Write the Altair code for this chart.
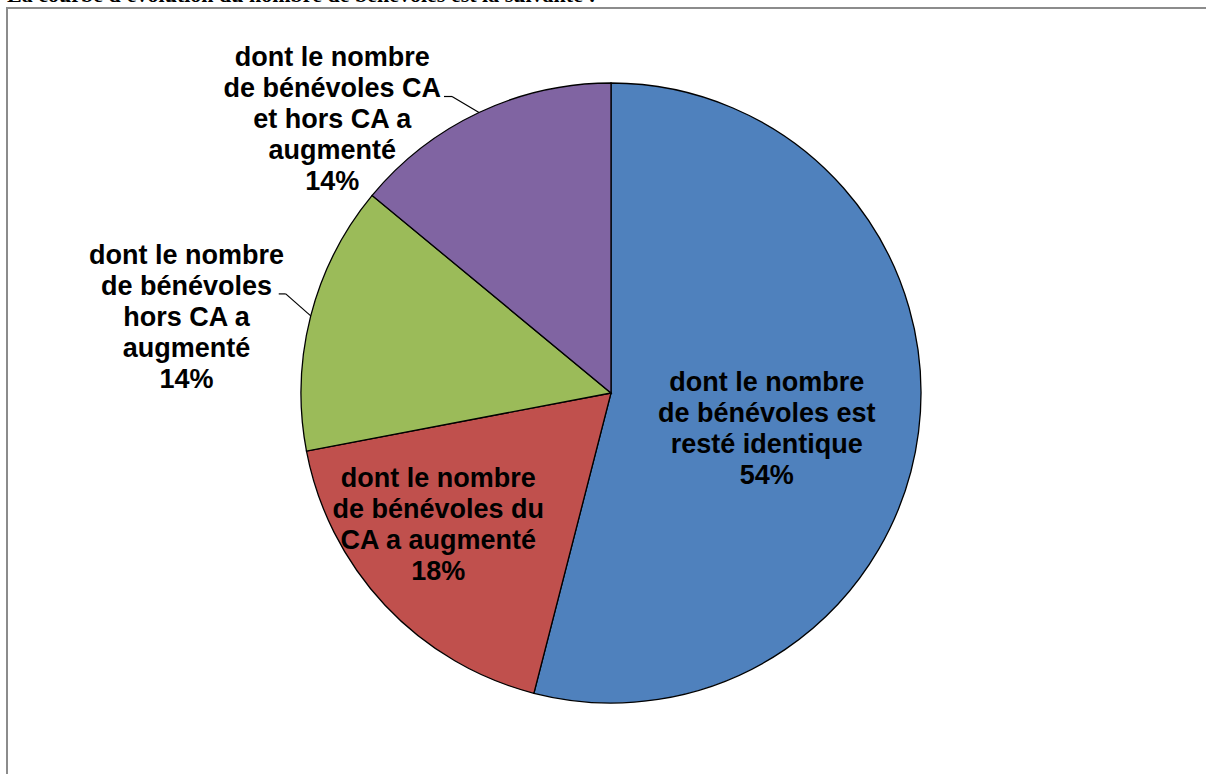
import math
import altair as alt
import pandas as pd

# ---- data ----
categories = [
    "dont le nombre de bénévoles est resté identique",
    "dont le nombre de bénévoles du CA a augmenté",
    "dont le nombre de bénévoles hors CA a augmenté",
    "dont le nombre de bénévoles CA et hors CA a augmenté",
]
values = [54, 18, 14, 14]
label_lines = [
    ["dont le nombre", "de bénévoles est", "resté identique", "54%"],
    ["dont le nombre", "de bénévoles du", "CA a augmenté", "18%"],
    ["dont le nombre", "de bénévoles", "hors CA a", "augmenté", "14%"],
    ["dont le nombre", "de bénévoles CA", "et hors CA a", "augmenté", "14%"],
]
colors = ["#4F81BD", "#C0504D", "#9BBB59", "#8064A2"]
page_title = "La courbe d'évolution du nombre de bénévoles est la suivante :"

df = pd.DataFrame({
    "categorie": categories,
    "valeur": values,
    "ordre": list(range(len(categories))),
    "etiquette": ["\n".join(l) for l in label_lines],
})
total = sum(values)

W, H = 1190, 762
R = 310
CX, CY = W / 2, H / 2
LH = 31

pie = alt.Chart(df).mark_arc(outerRadius=R, stroke="black", strokeWidth=1.3).encode(
    theta=alt.Theta("valeur:Q", stack=True),
    order=alt.Order("ordre:Q"),
    color=alt.Color("categorie:N", scale=alt.Scale(domain=categories, range=colors), legend=None),
)

base = (
    alt.Chart(df)
    .transform_window(cum="sum(valeur)", sort=[alt.SortField("ordre")], frame=[None, 0])
    .transform_calculate(mid="datum.cum - datum.valeur / 2")
)

theta_mid = alt.Theta("mid:Q", stack=None, scale=alt.Scale(domain=[0, total], range=[0, 2 * math.pi]))

# label placement: (radius, dx, dy) per slice; dy recentres the multi-line block
placement = [(160, -3, 16), (200, -27, -4), (430, -8, 32), (380, -117, 71)]

layers = [pie]
for cat, lines, (r, dx, dy) in zip(categories, label_lines, placement):
    layers.append(
        base.transform_filter(alt.datum.categorie == cat)
        .mark_text(radius=r, dx=dx, dy=dy - (len(lines) - 1) * LH / 2,
                   font="Liberation Sans", fontWeight="bold",
                   fontSize=27, lineHeight=LH, lineBreak="\n", align="center",
                   baseline="middle", color="black")
        .encode(theta=theta_mid, text="etiquette:N")
    )

# leader lines for outer labels: edge point -> elbow -> short horizontal
leaders = [(categories[2], -25, -22, -7), (categories[3], -27, -16, -8)]
for cat, ex, ey, hx in leaders:
    lb = (
        base.transform_filter(alt.datum.categorie == cat)
        .transform_calculate(a=f"datum.mid / {total} * 2 * PI")
        .transform_calculate(
            x0=f"{CX} + {R} * sin(datum.a)",
            y0=f"{CY} - {R} * cos(datum.a)",
        )
        .transform_calculate(
            x1=f"datum.x0 + ({ex})",
            y1=f"datum.y0 + ({ey})",
        )
        .transform_calculate(x2=f"datum.x1 + ({hx})")
    )
    layers.append(lb.mark_rule(color="black", strokeWidth=1.2).encode(
        x=alt.X("x0:Q", scale=None), y=alt.Y("y0:Q", scale=None),
        x2="x1:Q", y2="y1:Q"))
    layers.append(lb.mark_rule(color="black", strokeWidth=1.2).encode(
        x=alt.X("x1:Q", scale=None), y=alt.Y("y1:Q", scale=None),
        x2="x2:Q", y2="y1:Q"))

deco = alt.Chart(pd.DataFrame({"k": [0]}))
frame = deco.mark_rect(fillOpacity=0, stroke="#8c8c8c", strokeWidth=2).encode(
    x=alt.value(-9), x2=alt.value(1210), y=alt.value(-4), y2=alt.value(800))
title = deco.mark_text(align="left", baseline="alphabetic", font="Liberation Serif",
                       fontWeight="bold", fontSize=22, color="black").encode(
    x=alt.value(-9), y=alt.value(-10), text=alt.value(page_title))

chart = alt.layer(frame, title, *layers).properties(
    width=W, height=H,
    autosize=alt.AutoSizeParams(type="none"),
    padding={"left": 16, "top": 12, "right": 0, "bottom": 0},
    background="white",
).configure_view(strokeWidth=0)

chart.save("out.html", embed_options={"renderer": "svg", "actions": False})
